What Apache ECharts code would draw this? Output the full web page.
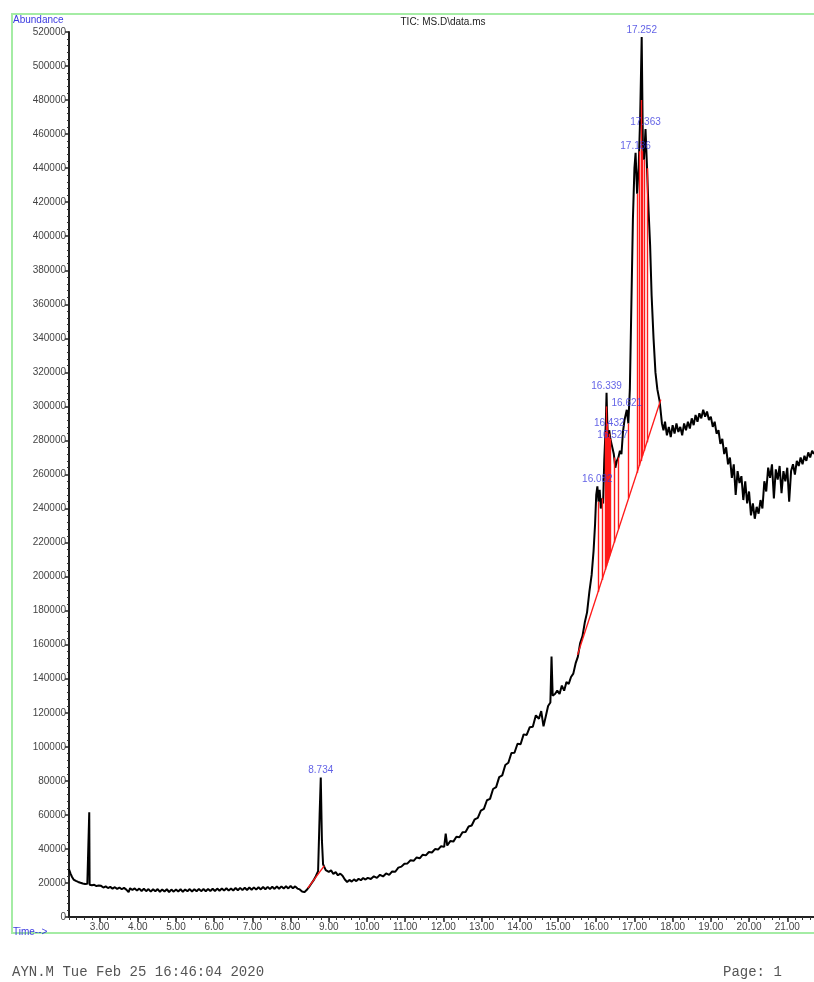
<!DOCTYPE html>
<html>
<head>
<meta charset="utf-8">
<script src="https://cdn.jsdelivr.net/npm/echarts@6/dist/echarts.min.js"></script>
<style>
html,body{margin:0;padding:0;background:#fff;}
#chart{width:814px;height:982px;}
</style>
</head>
<body>
<div id="chart"></div>
<script>
// ---- data ----
const times = [
2.20,2.24,2.28,2.32,2.38,2.44,2.50,2.56,2.62,2.68,2.72,2.73,2.74,2.80,2.86,2.92,2.98,
3.04,3.10,3.16,3.22,3.28,3.34,3.40,3.46,3.52,3.58,3.64,3.70,3.76,3.80,3.86,3.92,3.98,
4.04,4.10,4.16,4.22,4.28,4.34,4.40,4.46,4.52,4.58,4.64,4.70,4.76,4.82,4.88,4.94,
5.00,5.06,5.12,5.18,5.24,5.30,5.36,5.42,5.48,5.54,5.60,5.66,5.72,5.78,5.84,5.90,5.96,
6.02,6.08,6.14,6.20,6.26,6.32,6.38,6.44,6.50,6.56,6.62,6.68,6.74,6.80,6.86,6.92,6.98,
7.04,7.10,7.16,7.22,7.28,7.34,7.40,7.46,7.52,7.58,7.64,7.70,7.76,7.82,7.88,7.94,
8.00,8.06,8.12,8.18,8.24,8.30,8.36,8.42,8.48,8.54,8.60,8.66,8.72,8.76,8.79,8.82,8.85,8.88,8.92,8.96,
9.00,9.06,9.12,9.18,9.24,9.30,9.36,9.42,9.48,9.54,9.60,9.66,9.72,9.78,9.84,9.90,9.96,
10.02,10.10,10.18,10.26,10.34,10.42,10.50,10.58,10.66,10.74,10.82,10.90,10.98,
11.06,11.14,11.22,11.30,11.38,11.46,11.54,11.62,11.70,11.78,11.86,11.94,
12.02,12.06,12.10,12.18,12.26,12.34,12.42,12.50,12.58,12.66,12.74,12.82,12.90,12.98,
13.06,13.14,13.22,13.30,13.38,13.46,13.54,13.62,13.70,13.78,13.86,13.94,
14.02,14.10,14.18,14.26,14.34,14.42,14.50,14.56,14.62,14.68,14.74,14.80,14.83,14.86,14.92,14.98,
15.04,15.10,15.16,15.22,15.28,15.34,15.40,15.46,15.52,15.58,15.64,15.70,15.76,15.82,15.88,15.93,15.97,
16.00,16.03,16.06,16.09,16.12,16.15,16.18,16.21,16.25,16.27,16.29,16.31,16.34,16.37,16.40,16.43,16.46,
16.50,16.54,16.58,16.62,16.66,16.70,16.74,16.80,16.84,16.88,16.92,16.96,
17.00,17.03,17.07,17.11,17.15,17.19,17.22,17.25,17.29,17.33,17.37,17.41,17.45,17.50,17.55,17.60,17.66,17.72,
17.76,17.80,17.85,17.90,17.95,18.00,18.05,18.10,18.15,18.20,18.25,18.30,18.35,18.40,18.45,18.50,18.55,
18.60,18.65,18.70,18.75,18.80,18.85,18.90,18.95,19.00,19.05,19.10,19.15,19.20,19.25,19.30,19.35,19.40,
19.45,19.50,19.55,19.60,19.65,19.70,19.75,19.80,19.85,19.90,19.95,20.00,20.05,20.10,20.15,20.20,20.25,
20.30,20.35,20.40,20.45,20.50,20.55,20.60,20.65,20.70,20.75,20.80,20.85,20.90,20.95,21.00,21.05,21.10,
21.15,21.20,21.25,21.30,21.35,21.40,21.45,21.50,21.55,21.60,21.65,21.70
];
const abundance = [
28000,25500,23500,22000,21200,20600,20100,19700,19400,19600,19200,61500,19000,18700,18900,18200,18500,
18300,17300,18000,17000,17700,16700,17500,16500,17300,16300,17100,16100,14600,16900,15900,16800,15500,
16700,15300,16600,15200,16400,14900,16300,15100,16400,14800,16200,15000,16300,14700,16100,14900,
16200,15000,16300,14800,16200,15100,16400,15000,16300,15100,16500,15200,16400,15100,16500,15300,16600,
15300,16700,15400,16700,15500,16900,15500,16800,15600,17000,15700,17100,15800,17200,15900,17300,16000,
17400,16100,17500,16200,17600,16300,17700,16400,17800,16500,17900,16600,18000,16700,18100,16800,
18200,16900,18000,16700,16200,15000,14600,15800,17500,19500,21500,24000,27000,60000,82000,45000,31000,30500,27500,28500,
26500,27400,25300,26400,24500,25500,24200,22000,20600,21800,20800,22100,21100,22500,21600,22900,22000,
23000,22300,23900,23000,24800,23800,25600,24700,26800,26600,29000,29600,31300,
31500,33300,33000,35000,34500,36600,36200,38200,37900,39900,39600,41600,
41200,49000,42000,44600,44300,47200,46800,49800,49900,53200,53800,57400,58200,62500,
63500,68600,69400,75200,76300,82200,83200,89300,90600,96400,96500,101800,
101500,107300,107000,111500,111800,118500,116500,121000,112000,118000,124000,126000,153000,130000,131000,133000,
131000,136000,133000,138000,137000,141000,143000,149000,153000,161000,165000,173000,179000,191000,201000,215000,231000,
248000,253000,244000,251000,240000,246000,243000,268000,290000,308000,290000,280000,286000,281000,278000,279000,272000,
264000,268000,270000,274000,272000,285000,292000,298000,290000,310000,360000,410000,
440000,449000,425000,440000,470000,517000,455000,445000,463000,440000,415000,395000,365000,340000,320000,310000,303000,290000,
286000,291000,283000,288000,282000,289000,284000,290000,285000,288000,283000,290000,286000,291000,287000,293000,289000,
295000,291000,296000,293000,298000,294000,297000,292000,294000,288000,291000,284000,286000,278000,281000,272000,276000,
266000,270000,258000,266000,248000,262000,255000,259000,245000,256000,243000,250000,236000,243000,234000,241000,237000,
245000,240000,256000,250000,264000,258000,266000,246000,263000,257000,265000,249000,262000,256000,264000,244000,262000,
266000,260000,268000,265000,270000,266000,271000,268000,273000,270000,274000,272000
];
// integrated peaks: position of apex and printed retention time
const peakTimes  = [8.79, 16.03, 16.27, 16.34, 16.43, 16.80, 17.03, 17.19, 17.29];
const peakValues = [82000, 253000, 308000, 286000, 279000, 298000, 449000, 517000, 463000];
const peakLabels = ['8.734','16.082','16.339','16.432','16.527','16.621','17.186','17.252','17.363'];
// integration baselines [t0, v0, t1, v1]
const baseline1 = [8.45, 17000, 8.88, 30000];
const baseline2 = [15.51, 154000, 17.69, 304000];
// drop lines of the integration
const dropTimes   = [16.06, 16.15, 16.24, 16.27, 16.29, 16.32, 16.35, 16.38, 16.47, 16.58, 16.84, 17.07, 17.13, 17.17, 17.21, 17.25, 17.33];
const dropBottoms = [191000,198000,204000,206000,208000,210000,212000,214000,220000,228000,246000,261000,265000,268000,271000,274000,279000];
const dropTops    = [244000,246000,285000,300000,290000,282000,284000,281000,270000,270000,290000,425000,450000,480000,450000,445000,440000];
// axis ticks
const xTickValues = [3,4,5,6,7,8,9,10,11,12,13,14,15,16,17,18,19,20,21];
const xTickLabels = ['3.00','4.00','5.00','6.00','7.00','8.00','9.00','10.00','11.00','12.00','13.00','14.00','15.00','16.00','17.00','18.00','19.00','20.00','21.00'];

// ---- build chart ----
const trace = times.map((t, i) => [t, abundance[i]]);
const minorX = [];
for (let k = 11; k <= 108; k++) minorX.push(+(k * 0.2).toFixed(1));
const redLines = [
  [{coord:[baseline1[0], baseline1[1]]},{coord:[baseline1[2], baseline1[3]]}],
  [{coord:[baseline2[0], baseline2[1]]},{coord:[baseline2[2], baseline2[3]]}]
];
dropTimes.forEach((t, i) => redLines.push([{coord:[t, dropBottoms[i]]},{coord:[t, dropTops[i]]}]));

const chart = echarts.init(document.getElementById('chart'), null, {renderer:'canvas'});
const FONT = 'Liberation Sans, Arial, sans-serif';
chart.setOption({
  animation: false,
  backgroundColor: '#ffffff',
  grid: {left: 69, top: 32, right: 0, bottom: 65, containLabel: false},
  xAxis: [{
    type: 'value', min: 2.2, max: 21.7,
    axisLine: {show: true, lineStyle: {color: '#222', width: 2}},
    axisTick: {show: true, customValues: xTickValues, length: 5, lineStyle: {color: '#222', width: 1.5}},
    axisLabel: {show: true, customValues: xTickValues, margin: 5, fontSize: 10, color: '#444', fontFamily: FONT,
      formatter: v => { const i = xTickValues.indexOf(Math.round(v)); return i >= 0 ? xTickLabels[i] : ''; }},
    splitLine: {show: false}
  }, {
    type: 'value', min: 2.2, max: 21.7, position: 'bottom',
    axisLine: {show: false},
    axisTick: {show: true, customValues: minorX, length: 3, lineStyle: {color: '#333', width: 1}},
    axisLabel: {show: false},
    splitLine: {show: false}
  }],
  yAxis: {
    type: 'value', min: 0, max: 520000, interval: 20000,
    axisLine: {show: true, lineStyle: {color: '#222', width: 2}},
    axisTick: {show: true, length: 4, lineStyle: {color: '#222', width: 1.5}},
    minorTick: {show: true, splitNumber: 5, length: 2, lineStyle: {color: '#333'}},
    axisLabel: {margin: 3, fontSize: 10, color: '#444', fontFamily: FONT, formatter: v => String(v)},
    splitLine: {show: false}
  },
  series: [{
    type: 'line', data: trace, xAxisIndex: 0,
    showSymbol: false, symbol: 'none',
    lineStyle: {color: '#000', width: 2},
    z: 3,
    markLine: {
      silent: true, symbol: ['none','none'], label: {show: false},
      lineStyle: {color: '#ff1a1a', width: 1.4, type: 'solid'},
      data: redLines
    }
  }, {
    type: 'scatter', xAxisIndex: 0,
    data: peakTimes.map((t, i) => [t, peakValues[i]]),
    symbolSize: 2, itemStyle: {color: 'rgba(0,0,0,0)'}, z: 5,
    label: {show: true, position: 'top', distance: 1, fontSize: 10, color: '#3a3ae0', fontFamily: FONT,
      formatter: p => peakLabels[p.dataIndex]}
  }],
  graphic: [
    {type: 'rect', shape: {x: 12, y: 14, width: 810, height: 919}, style: {fill: 'none', stroke: '#a4eca4', lineWidth: 2}, z: 0},
    {type: 'text', x: 443, y: 22, style: {text: 'TIC: MS.D\\data.ms', fill: '#222', font: '10px ' + FONT, textAlign: 'center', textVerticalAlign: 'middle'}},
    {type: 'text', x: 13, y: 20, style: {text: 'Abundance', fill: '#3a3ae0', font: '10px ' + FONT, textAlign: 'left', textVerticalAlign: 'middle'}, z: 10},
    {type: 'text', x: 13, y: 932, style: {text: 'Time-->', fill: '#3a3ae0', font: '10px ' + FONT, textAlign: 'left', textVerticalAlign: 'middle'}},
    {type: 'text', x: 12, y: 972, style: {text: 'AYN.M Tue Feb 25 16:46:04 2020', fill: '#555', font: '14px "Liberation Mono", "DejaVu Sans Mono", monospace', textAlign: 'left', textVerticalAlign: 'middle'}},
    {type: 'text', x: 723, y: 972, style: {text: 'Page: 1', fill: '#555', font: '14px "Liberation Mono", "DejaVu Sans Mono", monospace', textAlign: 'left', textVerticalAlign: 'middle'}}
  ]
});
</script>
</body>
</html>
